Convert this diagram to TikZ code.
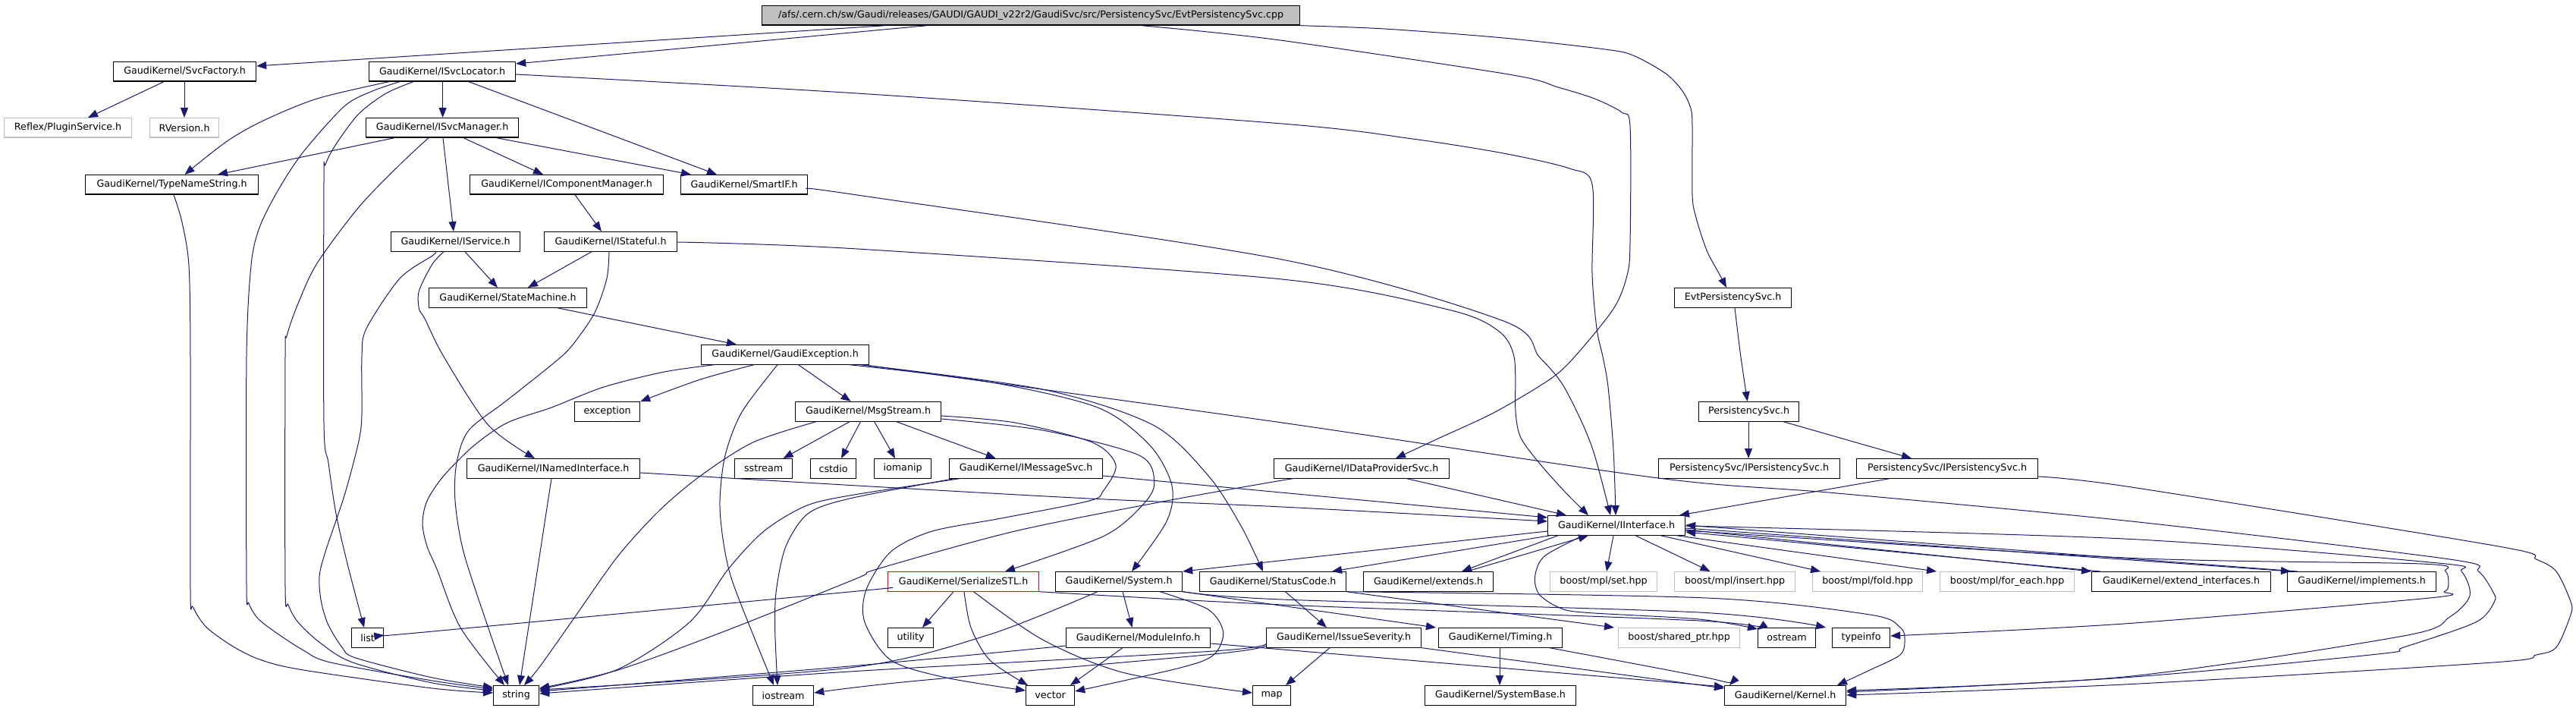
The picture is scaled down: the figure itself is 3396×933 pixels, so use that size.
\documentclass[tikz,border=0pt]{standalone}
\usepackage{fontspec}
\setmainfont{DejaVu Sans}
\usetikzlibrary{arrows.meta}
\definecolor{edgec}{HTML}{191970}
\definecolor{graybd}{HTML}{BFBFBF}
\definecolor{topfill}{HTML}{BFBFBF}
\definecolor{redbd}{HTML}{FF0000}
\newcommand\nfont{\fontsize{12.7}{15}\selectfont}
\newcommand\gnode[5][]{\node[bx,#1,minimum width=#4pt] (#2) at (#3) {#5};}
\tikzset{
  bx/.style={draw=black, line width=1.2pt, inner sep=0pt, minimum height=25.5pt, anchor=north west, font=\nfont, text=black},
  grybox/.style={draw=graybd},
  redbox/.style={draw=redbd},
  topbox/.style={fill=topfill},
  ed/.style={draw=edgec, line width=1pt, line join=round, -{Triangle[length=13pt,width=10pt]}},
}
\begin{document}
\begin{tikzpicture}[x=1pt,y=-1pt]
\useasboundingbox (0,0) rectangle (3396,933);
% nodes
\gnode[topbox]{cpp}{1004,7}{709}{/afs/.cern.ch/sw/Gaudi/releases/GAUDI/GAUDI\_v22r2/GaudiSvc/src/PersistencySvc/EvtPersistencySvc.cpp}
\gnode{svcf}{149,81}{188}{GaudiKernel/SvcFactory.h}
\gnode{isl}{486,81}{193}{GaudiKernel/ISvcLocator.h}
\gnode[grybox]{plug}{5,155}{168}{Reflex/PluginService.h}
\gnode[grybox]{rver}{197,155}{91}{RVersion.h}
\gnode{ism}{482,155}{201}{GaudiKernel/ISvcManager.h}
\gnode{tns}{112,230}{228}{GaudiKernel/TypeNameString.h}
\gnode{icm}{619,230}{255}{GaudiKernel/IComponentManager.h}
\gnode{sif}{897,230}{167}{GaudiKernel/SmartIF.h}
\gnode{isv}{515,305}{170}{GaudiKernel/IService.h}
\gnode{ist}{717,305}{175}{GaudiKernel/IStateful.h}
\gnode{sm}{565,379}{208}{GaudiKernel/StateMachine.h}
\gnode{evh}{2207,379}{154}{EvtPersistencySvc.h}
\gnode{gex}{924,454}{221}{GaudiKernel/GaudiException.h}
\gnode{exc}{757,529}{86}{exception}
\gnode{msg}{1048,529}{192}{GaudiKernel/MsgStream.h}
\gnode{psh}{2239,529}{132}{PersistencySvc.h}
\gnode{inm}{615,604}{228}{GaudiKernel/INamedInterface.h}
\gnode{sst}{968,604}{76}{sstream}
\gnode{cst}{1068,604}{60}{cstdio}
\gnode{iom}{1152,604}{75}{iomanip}
\gnode{ims}{1251,604}{202}{GaudiKernel/IMessageSvc.h}
\gnode{idp}{1679,604}{231}{GaudiKernel/IDataProviderSvc.h}
\gnode{ipa}{2186,604}{239}{PersistencySvc/IPersistencySvc.h}
\gnode{ipb}{2447,604}{239}{PersistencySvc/IPersistencySvc.h}
\gnode{iif}{2040,679}{181}{GaudiKernel/IInterface.h}
\gnode[redbox]{ser}{1170,753}{199}{GaudiKernel/SerializeSTL.h}
\gnode{sys}{1391,753}{167}{GaudiKernel/System.h}
\gnode{stc}{1581,753}{193}{GaudiKernel/StatusCode.h}
\gnode{ext}{1797,753}{171}{GaudiKernel/extends.h}
\gnode[grybox]{bset}{2043,753}{141}{boost/mpl/set.hpp}
\gnode[grybox]{bins}{2207,753}{159}{boost/mpl/insert.hpp}
\gnode[grybox]{bfold}{2389,753}{145}{boost/mpl/fold.hpp}
\gnode[grybox]{bfe}{2557,753}{177}{boost/mpl/for\_each.hpp}
\gnode{exi}{2757,753}{236}{GaudiKernel/extend\_interfaces.h}
\gnode{imp}{3015,753}{196}{GaudiKernel/implements.h}
\gnode{lst}{463,827}{42}{list}
\gnode{utl}{1170,827}{60}{utility}
\gnode{mod}{1405,827}{190}{GaudiKernel/ModuleInfo.h}
\gnode{iss}{1669,827}{204}{GaudiKernel/IssueSeverity.h}
\gnode{tim}{1896,827}{163}{GaudiKernel/Timing.h}
\gnode[grybox]{bsp}{2133,827}{160}{boost/shared\_ptr.hpp}
\gnode{ost}{2317,827}{76}{ostream}
\gnode{tyi}{2415,827}{76}{typeinfo}
\gnode{str}{650,903}{60}{string}
\gnode{ios}{992,903}{80}{iostream}
\gnode{vec}{1352,903}{64}{vector}
\gnode{map}{1651,903}{50}{map}
\gnode{sbase}{1878,903}{199}{GaudiKernel/SystemBase.h}
\gnode{ker}{2273,903}{160}{GaudiKernel/Kernel.h}
% edges: cpp
\draw[ed] ([xshift=163]cpp.south west) -- ([yshift=-6]svcf.north east);
\draw[ed] ([xshift=218]cpp.south west) -- ([yshift=-3]isl.north east);
\draw[ed] plot[smooth] coordinates {([xshift=501]cpp.south west) (1680,52) (1989,98) (2054,115) (2102,130) (2138,148) (2149,167) (2149,320) (2145,363) (2127,407) (2076,470) (2043,500) (1971,543) (1898,577) ([xshift=161]idp.north west)};
\draw[ed] plot[smooth] coordinates {(cpp.south east) (1825,38) (1982,50) (2116,65) (2153,73) (2196,97) (2218,120) (2229,143) (2231,167) (2231,257) (2236,287) (2250,330) (2266,360) ([xshift=69]evh.north west)};
% svcf
\draw[ed] ([xshift=67]svcf.south west) -- ([xshift=111]plug.north west);
\draw[ed] ([xshift=94]svcf.south west) -- ([xshift=46]rver.north west);
% isl
\draw[ed] plot[smooth] coordinates {([xshift=27]isl.south west) (418,130) (345,160) (298,187) ([xshift=131.5]tns.north west)};
\draw[ed] plot[smooth] coordinates {([xshift=41]isl.south west) (491,120) (454,140) (400,200) (367,250) (342,300) (331,350) (325,470) (325,770) (328,795) (340,815) (363,833) (400,857) (436,873) (570,897) ([yshift=-5]str.north west)};
\draw[ed] plot[smooth] coordinates {([xshift=59]isl.south west) (509,123) (473,150) (443,190) (429,217) (427,240) (427,557) (433,610) (443,677) (458,743) ([xshift=17]lst.north west)};
\draw[ed] ([xshift=97.6]isl.south west) -- ([xshift=101.6]ism.north west);
\draw[ed] ([xshift=132]isl.south west) -- ([xshift=48]sif.north west);
\draw[ed] plot[smooth] coordinates {([yshift=-17]isl.north east) (1130,123) (1690,163) (1862,183) (1982,202) (2069,222) (2099,243) (2099,360) (2105,433) (2113,470) (2120,510) (2127,593) ([xshift=90]iif.north west)};
% ism
\draw[ed] ([xshift=38]ism.south west) -- ([xshift=175]tns.north west);
\draw[ed] plot[smooth] coordinates {([xshift=83]ism.south west) (527,217) (473,273) (418,347) (393,400) (378,443) (376,470) (376,773) (380,797) (393,820) (422,847) (465,873) (570,900) ([yshift=-7]str.north west)};
\draw[ed] ([xshift=102]ism.south west) -- ([xshift=83]isv.north west);
\draw[ed] ([xshift=129]ism.south west) -- ([xshift=97]icm.north west);
\draw[ed] ([xshift=172.5]ism.south west) -- ([xshift=14]sif.north west);
% icm
\draw[ed] ([xshift=139]icm.south west) -- ([xshift=76]ist.north west);
% sif
\draw[ed] plot[smooth] coordinates {([yshift=-19]sif.north east) (1130,257) (1690,342) (1982,423) (2029,470) (2062,510) (2098,587) ([xshift=83]iif.north west)};
% isv
\draw[ed] ([xshift=98]isv.south west) -- ([xshift=91]sm.north west);
\draw[ed] plot[smooth] coordinates {([xshift=59.5]isv.south west) (570,337) (527,367) (483,433) (477,470) (477,547) (472.6,583) (454,653) (429,727) (421,760) (423.5,793) (432.6,823) (451,853) (469,867) (570,893) ([yshift=-3]str.north west)};
\draw[ed] plot[smooth] coordinates {([xshift=70]isv.south west) (570,348) (552.5,383) (552.5,407) (560,420) (585,470) (643.6,560) ([xshift=90]inm.north west)};
% ist
\draw[ed] ([xshift=63]ist.south west) -- ([xshift=131]sm.north west);
\draw[ed] plot[smooth] coordinates {([xshift=86]ist.south west) (800,367) (785,410) (763.6,443) (740,470) (669,527) (618,567) (602,610) (600,660) (611,727) (643.6,827) ([xshift=20]str.north west)};
\draw[ed] plot[smooth] coordinates {([yshift=-14]ist.north east) (1130,328) (1690,368) (1909,408) (1974,435) (1996,470) (1998,543) (2005,577) (2029,610) (2062,647) ([xshift=54]iif.north west)};
% sm
\draw[ed] ([xshift=169.5]sm.south west) -- ([xshift=47]gex.north west);
% gex
\draw[ed] plot[smooth] coordinates {([xshift=70]gex.south west) (923.5,500) (exc.north east)};
\draw[ed] plot[smooth] coordinates {([xshift=18]gex.south west) (876,490) (796,510) (727,537) (669,557) (625,587) (585,627) (563,660) (557,690) (563,720) (576,750) (607,827) ([xshift=15]str.north west)};
\draw[ed] plot[smooth] coordinates {([xshift=101]gex.south west) (978,543) (956,600) (949,660) (953,710) (963.5,760) (989,827) ([xshift=28]ios.north west)};
\draw[ed] ([xshift=128.6]gex.south west) -- ([xshift=73.6]msg.north west);
\draw[ed] plot[smooth] coordinates {([xshift=196]gex.south west) (1302,503) (1447,537) (1516,587) (1545,640) (1538,687) ([xshift=101]sys.north west)};
\draw[ed] plot[smooth] coordinates {([xshift=210.5]gex.south west) (1374,513) (1520,560) (1593,627) (1636,693) ([xshift=84]stc.north west)};
\draw[ed] plot[smooth] coordinates {([xshift=214]gex.south west) (1690,557) (2186,630) (2422,650) (2810,687) (3229.5,737) (3267.5,753) (3286.5,780) (3288.4,793) (3263.7,820) (3168.7,853) (3134.5,862) (2800,893) ([yshift=-9]ker.north east)};
% msg
\draw[ed] plot[smooth] coordinates {([xshift=28]msg.south west) (992.6,583) (923.5,627) (869,673) (814.5,733) (760,810) (712.7,877) ([xshift=41]str.north west)};
\draw[ed] ([xshift=72]msg.south west) -- ([xshift=64.6]sst.north west);
\draw[ed] ([xshift=86.5]msg.south west) -- ([xshift=41]cst.north west);
\draw[ed] ([xshift=104.7]msg.south west) -- ([xshift=28]iom.north west);
\draw[ed] ([xshift=133.8]msg.south west) -- ([xshift=61.7]ims.north west);
\draw[ed] plot[smooth] coordinates {([yshift=-23]msg.north east) (1374.5,567) (1501.7,600) (1521.7,637) (1505,667) (1454,707) ([xshift=155]ser.north west)};
\draw[ed] plot[smooth] coordinates {([yshift=-19]msg.north east) (1338,557) (1440,583) (1471,613) (1454.4,647) (1436,660) (1320,683) (1229,700) (1174.5,727) (1142,777) (1140,820) (1174.5,870) (1247,893) ([yshift=-7]vec.north west)};
% ims
\draw[ed] plot[smooth] coordinates {([xshift=14]ims.south west) (1120,653) (1061.6,667) (1007,700) (960,750) (909,820) (814.5,882) ([yshift=-5]str.north east)};
\draw[ed] plot[smooth] coordinates {([xshift=7]ims.south west) (1120,657) (1065,677) (1036,720) (1023.5,777) (1021.6,827) ([xshift=33]ios.north west)};
\draw[ed] ([yshift=-23]ims.north east) -- ([yshift=-3]iif.north west);
% inm
\draw[ed] ([xshift=112]inm.south west) -- ([xshift=35]str.north west);
\draw[ed] plot[smooth] coordinates {([yshift=-19]inm.north east) (1130,640) (1436,657) (1690,668) ([yshift=-8]iif.north west)};
% idp
\draw[ed] ([xshift=175.5]idp.south west) -- ([xshift=25]iif.north west);
\draw[ed] plot[smooth] coordinates {([xshift=30]idp.south west) (1690,633) (1538,660) (1338,700) (1156,750) (1130,762) (960,830) (814.5,883) ([yshift=-4]str.north east)};
% persistency
\draw[ed] plot[smooth] coordinates {([xshift=80]evh.south west) (2294.5,467) ([xshift=64.6]psh.north west)};
\draw[ed] ([xshift=66]psh.south west) -- ([xshift=119]ipa.north west);
\draw[ed] ([xshift=112]psh.south west) -- ([xshift=73]ipb.north west);
\draw[ed] ([xshift=44]ipb.south west) -- ([xshift=174]iif.north west);
\draw[ed] plot[smooth] coordinates {([yshift=-24]ipb.north east) (2810,642) (3294,720) (3343.5,737) (3370,753) (3389,793) (3389,810) (3370,853) (3343.5,863) (3286.5,873) (2800,902) ([yshift=-13]ker.north east)};
% iif
\draw[ed] plot[smooth] coordinates {([yshift=-20]iif.north east) (2800,735) (3191.5,743) (3224,753) (3227.6,773) (3222,780) (3203,788) (2800,822) ([yshift=-11]tyi.north east)};
\draw[ed] plot[smooth] coordinates {([yshift=-14]iif.north east) (2800,710) (3214,742) (3245,753) (3256,785) (3229.5,813) (3168.7,838) (2800,892) ([yshift=-7]ker.north east)};
\draw[ed] ([yshift=-19]iif.north east) -- (exi.north west);
\draw[ed] ([xshift=12]exi.north west) -- ([yshift=-22]iif.north east);
\draw[ed] ([yshift=-17]iif.north east) -- ([xshift=5]imp.north west);
\draw[ed] ([xshift=14]imp.north west) -- ([yshift=-13]iif.north east);
\draw[ed] ([xshift=14]iif.south west) -- ([xshift=130]ext.north west);
\draw[ed] ([xshift=137]ext.north west) -- ([xshift=54]iif.south west);
\draw[ed] ([yshift=-21]iif.north west) -- (sys.north east);
\draw[ed] ([xshift=3.5]iif.south west) -- ([xshift=175]stc.north west);
\draw[ed] ([xshift=87]iif.south west) -- ([xshift=75]bset.north west);
\draw[ed] ([xshift=116]iif.south west) -- ([xshift=47.5]bins.north west);
\draw[ed] ([xshift=149]iif.south west) -- ([xshift=11]bfold.north west);
\draw[ed] ([xshift=170]iif.south west) -- ([xshift=-4]bfe.north west);
\draw[ed] plot[smooth] coordinates {([xshift=47]iif.south west) (2036,733) (2023.5,760) (2029,783) (2054,800) (2087,807) (2240,816) ([yshift=-2]ost.north west)};
% ser
\draw[ed] ([xshift=87]ser.south west) -- ([xshift=46]utl.north west);
\draw[ed] plot[smooth] coordinates {([xshift=101]ser.south west) (1280,827) (1305,870) ([xshift=3]vec.north west)};
\draw[ed] plot[smooth] coordinates {([xshift=113.6]ser.south west) (1374.5,843) (1483.5,887) ([yshift=-10]map.north west)};
\draw[ed] plot[smooth] coordinates {([yshift=-22]ser.north west) (1120,780) (560,833) ([yshift=-10]lst.north east)};
\draw[ed] plot[smooth] coordinates {(ser.south east) (1690,797) (2240,818) ([yshift=-3]ost.north west)};
% sys
\draw[ed] plot[smooth] coordinates {([xshift=56]sys.south west) (1302,837) (1120,880) ([yshift=-6]str.north east)};
\draw[ed] ([xshift=89]sys.south west) -- ([xshift=87.6]mod.north west);
\draw[ed] plot[smooth] coordinates {([xshift=138]sys.south west) (1592.6,803) (1612.6,833) (1600,863) (1556,880) ([yshift=-8]vec.north east)};
\draw[ed] (sys.south east) -- ([xshift=-3]tim.north west);
\draw[ed] plot[smooth] coordinates {(sys.south east) (1690,790) (2240,807) ([xshift=-8]tyi.north west)};
% stc
\draw[ed] ([xshift=113.5]stc.south west) -- ([xshift=80]iss.north west);
\draw[ed] (stc.south east) -- ([xshift=-5]bsp.north west);
\draw[ed] plot[smooth] coordinates {(stc.south east) (2250,788) (2465,810) (2505,827) (2511,843) (2505,863) (2465,883) ([xshift=149]ker.north west)};
% mod
\draw[ed] plot[smooth] coordinates {([yshift=-24]mod.north west) (1120,878) ([yshift=-8]str.north east)};
\draw[ed] ([xshift=75]mod.south west) -- ([xshift=59]vec.north west);
\draw[ed] ([yshift=-21]mod.north east) -- ([yshift=-2]ker.north west);
% iss
\draw[ed] ([xshift=84]iss.south west) -- ([xshift=44]map.north west);
\draw[ed] plot[smooth] coordinates {([yshift=-21]iss.north west) (1600,858) (1120,885) ([yshift=-11]str.north east)};
\draw[ed] plot[smooth] coordinates {([yshift=-24]iss.north west) (1600,862) (1200,898) ([yshift=-10]ios.north east)};
\draw[ed] (iss.south east) -- ([yshift=-4]ker.north west);
% tim
\draw[ed] ([xshift=81]tim.south west) -- ([xshift=99]sbase.north west);
\draw[ed] plot[smooth] coordinates {([xshift=147]tim.south west) (2250,893) ([xshift=7]ker.north west)};
% tns
\draw[ed] plot[smooth] coordinates {([xshift=117]tns.south west) (240,293) (249,350) (251,470) (251,777) (254.5,800) (272.6,827) (309,853) (345,870) (400,883) (570,907) ([yshift=-10]str.north west)};
\end{tikzpicture}
\end{document}
